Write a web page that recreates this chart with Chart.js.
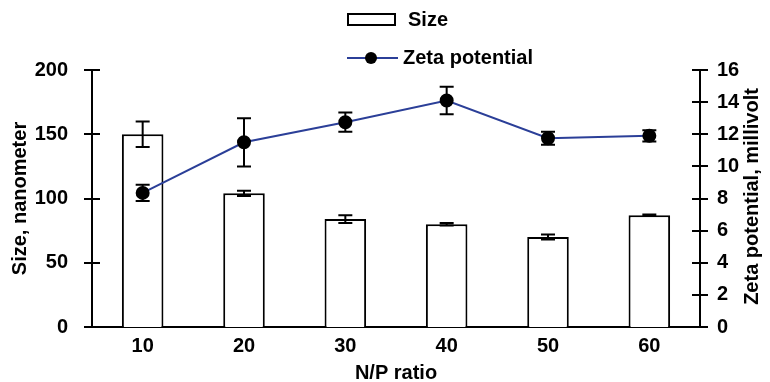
<!DOCTYPE html>
<html>
<head>
<meta charset="utf-8">
<script src="https://cdn.jsdelivr.net/npm/chart.js@4.4.1/dist/chart.umd.min.js"></script>
<style>
  html, body { margin: 0; padding: 0; background: #fff; }
  #wrap { width: 770px; height: 382px; position: relative; }
</style>
</head>
<body>
<div id="wrap"><canvas id="myChart"></canvas></div>
<script>
// N/P ratio categories
const npRatios = ["10", "20", "30", "40", "50", "60"];
// particle size, nm (mean and error)
const sizeValues = [150, 104, 84, 80, 70, 87];
const sizeErrors = [10, 2, 3, 1, 2, 0.5];
// zeta potential, mV (mean and error)
const zetaValues = [8.35, 11.5, 12.75, 14.1, 11.75, 11.9];
const zetaErrors = [0.5, 1.5, 0.6, 0.85, 0.4, 0.35];

const FONT = "'Liberation Sans', Arial, sans-serif";
const lineBlue = "#2b3f98";

// draws the tick marks crossing both axes, the error bars, the right title and the legend
const extras = {
  id: "extras",
  afterDatasetsDraw(chart) {
    const ctx = chart.ctx;
    const y = chart.scales.y, y1 = chart.scales.y1;
    ctx.save();
    ctx.strokeStyle = "#000";
    ctx.lineWidth = 2;

    // tick marks
    y.ticks.forEach((t) => {
      const py = Math.round(y.getPixelForValue(t.value));
      ctx.beginPath();
      ctx.moveTo(y.right - 8, py);
      ctx.lineTo(y.right + 8, py);
      ctx.stroke();
    });
    y1.ticks.forEach((t) => {
      const py = Math.round(y1.getPixelForValue(t.value));
      ctx.beginPath();
      ctx.moveTo(y1.left - 8, py);
      ctx.lineTo(y1.left + 8, py);
      ctx.stroke();
    });

    // error bars
    const drawErr = (x, scale, v, e) => {
      const top = scale.getPixelForValue(v + e);
      const bot = scale.getPixelForValue(v - e);
      ctx.beginPath();
      ctx.moveTo(x, top); ctx.lineTo(x, bot);
      ctx.moveTo(x - 7, top); ctx.lineTo(x + 7, top);
      ctx.moveTo(x - 7, bot); ctx.lineTo(x + 7, bot);
      ctx.stroke();
    };
    chart.getDatasetMeta(0).data.forEach((el, i) => drawErr(el.x, y, sizeValues[i], sizeErrors[i]));
    chart.getDatasetMeta(1).data.forEach((el, i) => drawErr(el.x, y1, zetaValues[i], zetaErrors[i]));

    ctx.font = "bold 20px " + FONT;
    ctx.fillStyle = "#000";

    // right axis title, reading bottom to top
    ctx.save();
    ctx.translate(752, (y1.top + y1.bottom) / 2 - 2);
    ctx.rotate(-Math.PI / 2);
    ctx.textAlign = "center";
    ctx.textBaseline = "middle";
    ctx.fillText("Zeta potential, millivolt", 0, 0);
    ctx.restore();

    // legend
    ctx.textBaseline = "middle";
    ctx.lineWidth = 2;
    ctx.strokeRect(348, 14, 47, 11);
    ctx.fillText("Size", 408, 20);
    ctx.strokeStyle = lineBlue;
    ctx.beginPath();
    ctx.moveTo(347, 58); ctx.lineTo(398, 58);
    ctx.stroke();
    ctx.beginPath();
    ctx.arc(371, 58, 6, 0, Math.PI * 2);
    ctx.fill();
    ctx.fillText("Zeta potential", 403, 58);
    ctx.restore();
  },
};

const ctx = document.getElementById("myChart").getContext("2d");
const myChart = new Chart(ctx, {
  type: "bar",
  data: {
    labels: npRatios,
    datasets: [
      {
        label: "Size",
        data: sizeValues,
        yAxisID: "y",
        backgroundColor: "#fff",
        borderColor: "#000",
        borderWidth: 2,
        barPercentage: 0.82,
        categoryPercentage: 0.5,
        order: 2,
      },
      {
        type: "line",
        label: "Zeta potential",
        data: zetaValues,
        yAxisID: "y1",
        borderColor: lineBlue,
        borderWidth: 2,
        pointRadius: 6,
        pointBackgroundColor: "#000",
        pointBorderColor: "#000",
        tension: 0,
        order: 1,
      },
    ],
  },
  options: {
    responsive: true,
    maintainAspectRatio: false,
    animation: false,
    layout: { padding: { top: 70, left: 0, right: 0, bottom: 0 } },
    plugins: { legend: { display: false }, tooltip: { enabled: false } },
    scales: {
      x: {
        grid: { display: false },
        border: { color: "#000", width: 2 },
        ticks: { color: "#000", font: { family: FONT, size: 20, weight: "bold" }, padding: -1 },
        title: {
          display: true,
          text: "N/P ratio",
          color: "#000",
          font: { family: FONT, size: 20, weight: "bold" },
          padding: { top: 0, bottom: -3 },
        },
        afterFit: (s) => { s.height = 55; },
      },
      y: {
        position: "left",
        min: 0,
        max: 200,
        grid: { display: false },
        border: { color: "#000", width: 2 },
        ticks: { stepSize: 50, color: "#000", font: { family: FONT, size: 20, weight: "bold" }, padding: 16 },
        title: {
          display: true,
          text: "Size, nanometer",
          color: "#000",
          font: { family: FONT, size: 20, weight: "bold" },
          padding: { top: 8, bottom: 0 },
        },
        afterFit: (s) => { s.width = 92; },
      },
      y1: {
        position: "right",
        min: 0,
        max: 16,
        grid: { display: false },
        border: { color: "#000", width: 2 },
        ticks: { stepSize: 2, color: "#000", font: { family: FONT, size: 20, weight: "bold" }, padding: 9 },
        title: { display: false },
        afterFit: (s) => { s.width = 70; },
      },
    },
  },
  plugins: [extras],
});
</script>
</body>
</html>
